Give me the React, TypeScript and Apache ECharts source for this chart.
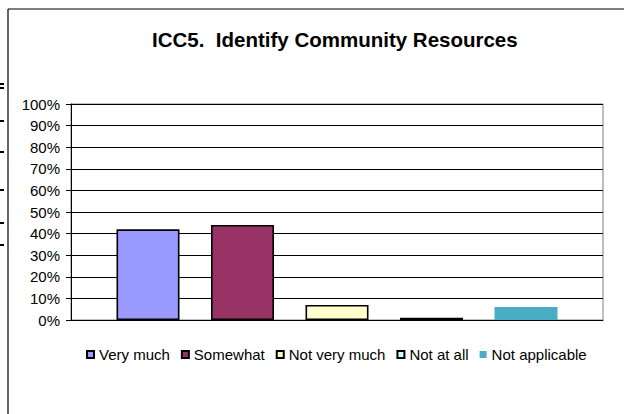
import React, { useEffect, useRef } from "react";
import * as echarts from "echarts";

const titleText = "ICC5.  Identify Community Resources";
const seriesNames = ["Very much", "Somewhat", "Not very much", "Not at all", "Not applicable"];
const seriesValues = [0.42, 0.44, 0.07, 0.01, 0.06];
const seriesColors = ["#9999FF", "#993366", "#FFFFCC", "#CCFFFF", "#4BACC6"];
const seriesBorders = [true, true, true, true, false];
const yTicks = [0, 0.1, 0.2, 0.3, 0.4, 0.5, 0.6, 0.7, 0.8, 0.9, 1];
const sideMarksY = [83, 87, 120, 151, 189, 222, 244];

const FONT = "'Liberation Sans', Arial, sans-serif";

export default function App() {
  const ref = useRef<HTMLDivElement>(null);
  useEffect(() => {
    if (!ref.current) return;
    const chart = echarts.init(ref.current, null, { renderer: "svg" });
    const series = seriesNames.map((name, i) => ({
      name,
      type: "bar",
      data: [seriesValues[i]],
      barWidth: 63,
      barGap: "50%",
      itemStyle: {
        color: seriesColors[i],
        borderColor: seriesBorders[i] ? "#000" : seriesColors[i],
        borderWidth: seriesBorders[i] ? 1.6 : 0,
      },
    }));
    chart.setOption({
      animation: false,
      backgroundColor: "#fff",
      textStyle: { fontFamily: FONT },
      title: {
        text: titleText,
        left: 147,
        top: 24,
        textStyle: { fontFamily: FONT, fontSize: 20.5, fontWeight: "bold", color: "#000" },
      },
      legend: {
        data: seriesNames,
        left: 81,
        top: 342,
        icon: "rect",
        itemWidth: 7,
        itemHeight: 7,
        itemGap: 11,
        textStyle: { fontFamily: FONT, fontSize: 15, color: "#000" },
      },
      grid: {
        left: 71,
        right: 21,
        top: 104,
        bottom: 94,
        show: true,
        borderColor: "#808080",
        borderWidth: 1,
      },
      xAxis: {
        type: "category",
        data: [""],
        axisLine: { lineStyle: { color: "#000", width: 1 } },
        axisTick: { show: false },
        axisLabel: { show: false },
      },
      yAxis: {
        type: "value",
        min: yTicks[0],
        max: yTicks[yTicks.length - 1],
        interval: 0.1,
        axisLine: { show: true, lineStyle: { color: "#000", width: 1 } },
        axisTick: { show: true, length: 5, lineStyle: { color: "#000" } },
        axisLabel: {
          formatter: (v: number) => Math.round(v * 100) + "%",
          fontFamily: FONT,
          fontSize: 15,
          color: "#000",
          margin: 11,
        },
        splitLine: { show: true, lineStyle: { color: "#000", width: 1 } },
      },
      graphic: [
        { type: "line", shape: { x1: 8, y1: 9, x2: 624, y2: 9 }, style: { stroke: "#000", lineWidth: 1.2 } },
        { type: "line", shape: { x1: 8, y1: 9, x2: 8, y2: 414 }, style: { stroke: "#000", lineWidth: 1.2 } },
        ...sideMarksY.map((y) => ({
          type: "rect",
          shape: { x: 0, y, width: 4, height: 2 },
          style: { fill: "#000" },
        })),
      ],
      series,
    });
    return () => chart.dispose();
  }, []);
  return (
    <div
      ref={ref}
      style={{ position: "fixed", left: 0, top: 0, width: 624, height: 414 }}
    />
  );
}
